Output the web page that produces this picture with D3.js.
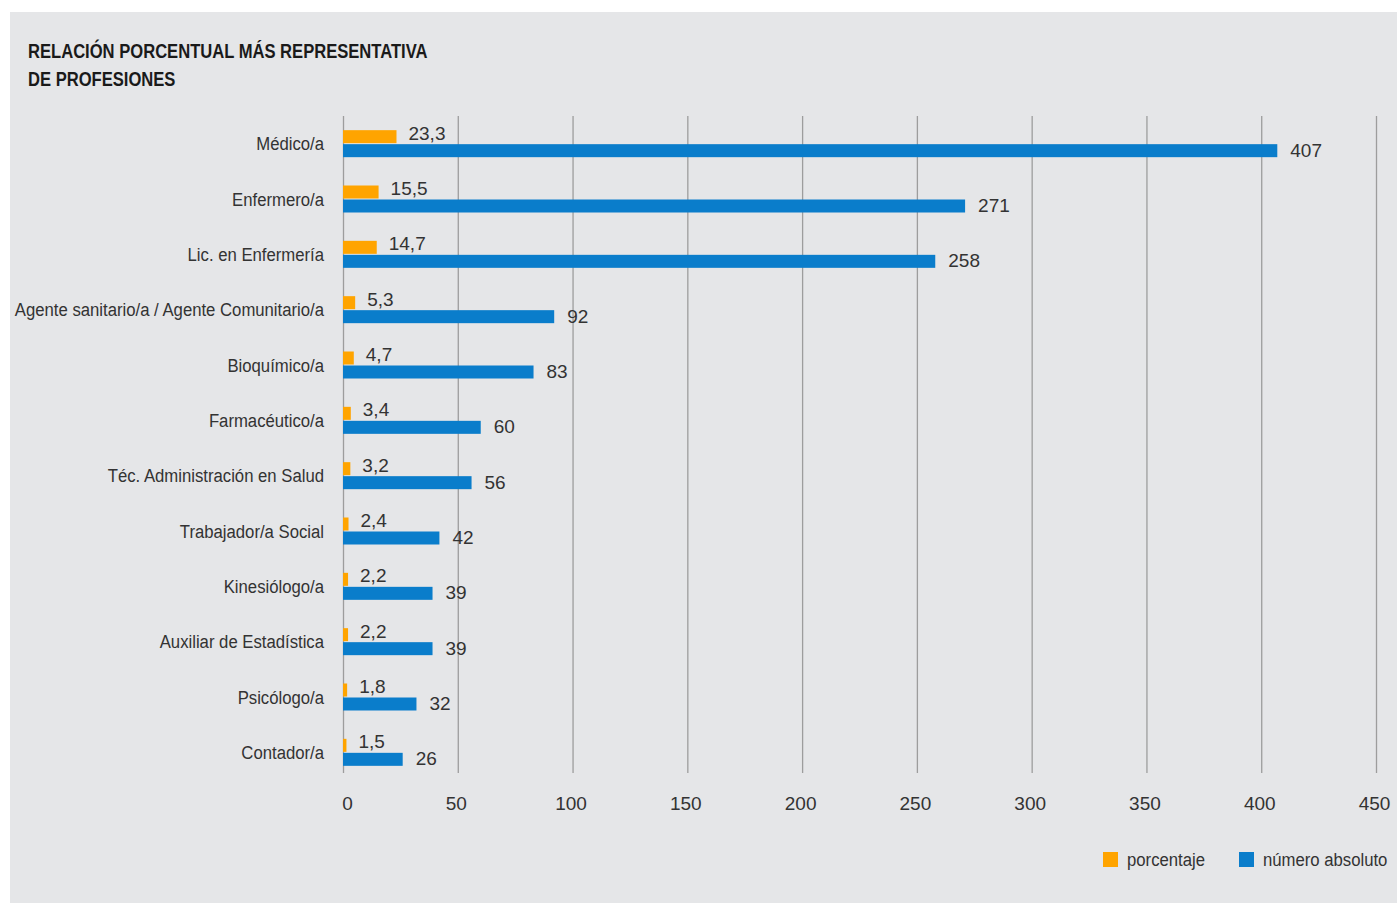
<!DOCTYPE html>
<html>
<head>
<meta charset="utf-8">
<script src="https://cdn.jsdelivr.net/npm/d3@7"></script>
<style>
  body { margin: 0; background: #fff; }
  text { font-family: "Liberation Sans", Arial, sans-serif; fill: #333; }
</style>
</head>
<body>
<div id="chart"></div>
<script>
/* Data */
const categories = [
  "Médico/a", "Enfermero/a", "Lic. en Enfermería",
  "Agente sanitario/a / Agente Comunitario/a", "Bioquímico/a", "Farmacéutico/a",
  "Téc. Administración en Salud", "Trabajador/a Social", "Kinesiólogo/a",
  "Auxiliar de Estadística", "Psicólogo/a", "Contador/a"
];
const porcentaje = [23.3, 15.5, 14.7, 5.3, 4.7, 3.4, 3.2, 2.4, 2.2, 2.2, 1.8, 1.5];
const numeroAbsoluto = [407, 271, 258, 92, 83, 60, 56, 42, 39, 39, 32, 26];
const xTicks = [0, 50, 100, 150, 200, 250, 300, 350, 400, 450];
const titleLines = ["RELACIÓN PORCENTUAL MÁS REPRESENTATIVA", "DE PROFESIONES"];
const seriesNames = ["porcentaje", "número absoluto"];

const fmt = v => String(v).replace(".", ",");

/* Chart */
const width = 1397, height = 903;
const orange = "#FFA400", blue = "#0A7DCB";
const narrow = 0.88; // no condensed font installed, squeeze horizontally

const svg = d3.select("#chart").append("svg")
  .attr("width", width)
  .attr("height", height);

svg.append("rect")
  .attr("x", 10).attr("y", 12)
  .attr("width", width - 10).attr("height", height - 12)
  .attr("fill", "#e5e6e8");

svg.selectAll(".title")
  .data(titleLines)
  .enter()
  .append("text")
  .attr("class", "title")
  .attr("transform", (d, i) => `translate(28,${58 + i * 28}) scale(0.83,1)`)
  .attr("font-size", "20px")
  .attr("font-weight", "bold")
  .style("fill", "#1a1a1a")
  .text(d => d);

const x = d3.scaleLinear().domain([0, 450]).range([343, 1376]);
const y = d3.scaleBand().domain(categories).range([116, 780]);

const gridBottom = 773;

// gridlines + tick labels
const xAxis = svg.append("g")
  .attr("transform", `translate(0,${gridBottom})`)
  .call(d3.axisBottom(x).tickValues(xTicks).tickSizeInner(-(gridBottom - 116)).tickSizeOuter(0).tickPadding(24));
xAxis.select(".domain").remove();
xAxis.selectAll("line").attr("stroke", "#9d9d9d").attr("stroke-width", 1.3);
xAxis.selectAll("text")
  .attr("font-size", "19px")
  .attr("font-family", null)
  .attr("fill", null)
  .attr("x", d => d === 0 ? 4 : -2);

const c = d => y(d) + y.bandwidth() / 2;

// category labels
svg.selectAll(".cat")
  .data(categories)
  .enter()
  .append("text")
  .attr("class", "cat")
  .attr("transform", d => `translate(324,${c(d)}) scale(${narrow},1)`)
  .attr("dy", "0.35em")
  .attr("text-anchor", "end")
  .attr("font-size", "19px")
  .text(d => d);

// porcentaje bars
svg.selectAll(".pct")
  .data(categories)
  .enter()
  .append("rect")
  .attr("class", "pct")
  .attr("x", x(0))
  .attr("y", d => c(d) - 13.5)
  .attr("width", (d, i) => x(porcentaje[i]) - x(0))
  .attr("height", 13)
  .attr("fill", orange);

// número absoluto bars
svg.selectAll(".abs")
  .data(categories)
  .enter()
  .append("rect")
  .attr("class", "abs")
  .attr("x", x(0))
  .attr("y", d => c(d) + 0.5)
  .attr("width", (d, i) => x(numeroAbsoluto[i]) - x(0))
  .attr("height", 13)
  .attr("fill", blue);

// value labels
svg.selectAll(".pctLabel")
  .data(categories)
  .enter()
  .append("text")
  .attr("class", "pctLabel")
  .attr("x", (d, i) => x(porcentaje[i]) + 12)
  .attr("y", d => c(d) - 10.5)
  .attr("dy", "0.35em")
  .attr("font-size", "19px")
  .text((d, i) => fmt(porcentaje[i]));

svg.selectAll(".absLabel")
  .data(categories)
  .enter()
  .append("text")
  .attr("class", "absLabel")
  .attr("x", (d, i) => x(numeroAbsoluto[i]) + 13)
  .attr("y", d => c(d) + 6.5)
  .attr("dy", "0.35em")
  .attr("font-size", "19px")
  .text((d, i) => fmt(numeroAbsoluto[i]));

/* Legend */
const legendX = [1103, 1239];
const legend = svg.append("g");
seriesNames.forEach((name, i) => {
  const g = legend.append("g").attr("transform", `translate(${legendX[i]},852)`);
  g.append("rect")
    .attr("width", 15).attr("height", 15)
    .attr("fill", i === 0 ? orange : blue);
  g.append("text")
    .attr("transform", `translate(24,7.5) scale(${narrow},1)`)
    .attr("dy", "0.35em")
    .attr("font-size", "19px")
    .text(name);
});
</script>
</body>
</html>
